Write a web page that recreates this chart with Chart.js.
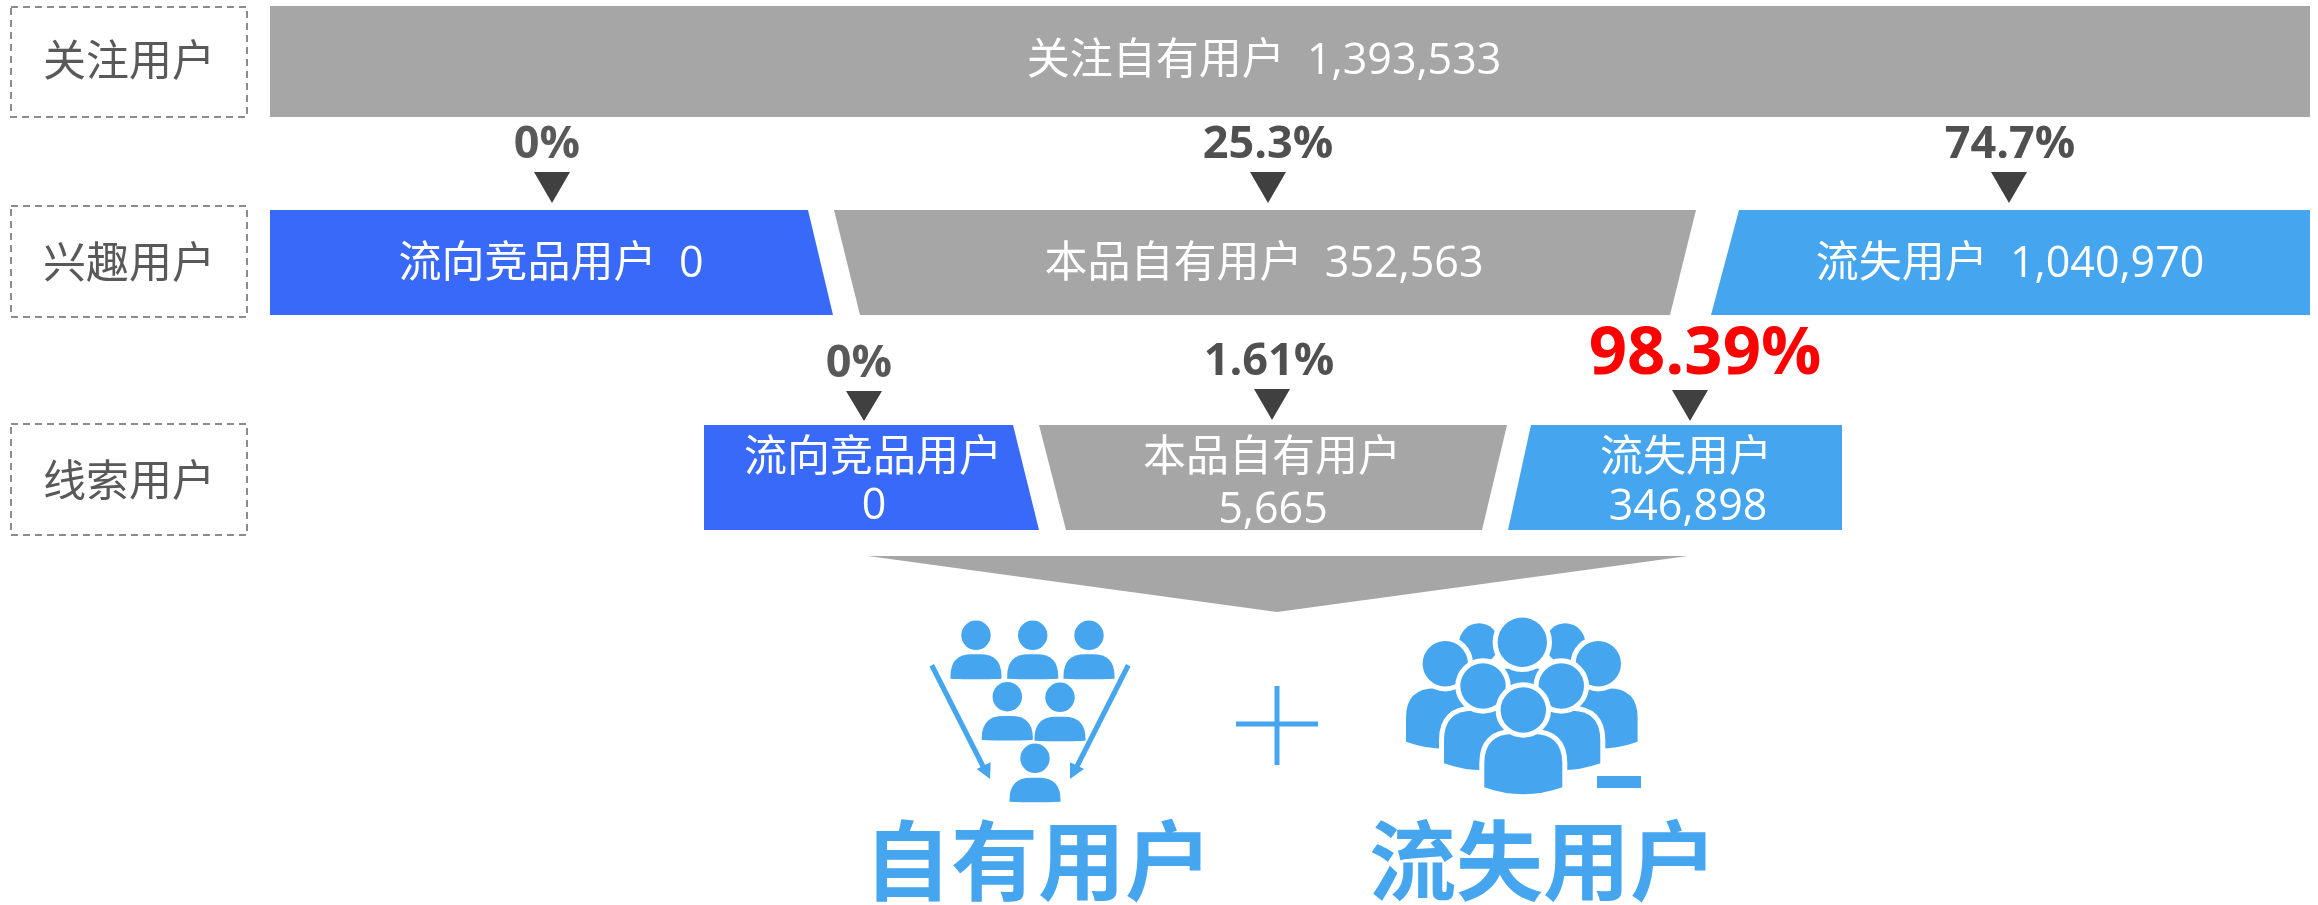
<!DOCTYPE html>
<html>
<head>
<meta charset="utf-8">
<style>
html, body { margin: 0; padding: 0; background: #fff; overflow: hidden; }
canvas { display: block; }
</style>
<script src="https://cdn.jsdelivr.net/npm/chart.js@4/dist/chart.umd.min.js"></script>
</head>
<body>
<canvas id="funnel" width="2318" height="905"></canvas>
<script>
// values
var stageLabels = ["关注用户", "兴趣用户", "线索用户"];
var followLabel = "关注自有用户";
var followValue = 1393533;
var groupLabels = ["流向竞品用户", "本品自有用户", "流失用户"];
var interestValues = [0, 352563, 1040970];
var leadValues = [0, 5665, 346898];
var interestRates = ["0%", "25.3%", "74.7%"];
var leadRates = ["0%", "1.61%", "98.39%"];
var bottomLabels = ["自有用户", "流失用户"];

var GREY = "#a6a6a6";
var BLUE = "#3869f8";
var SKY = "#45a5ee";
var DARK = "#404040";
var FONT = '"Open Sans", "Noto Sans CJK SC", sans-serif';

function shape(points, color) {
    return {
        data: points.map(function (p) { return { x: p[0], y: p[1] }; }),
        showLine: true,
        fill: "shape",
        backgroundColor: color,
        borderWidth: 0,
        borderDash: [4, 4],   // keeps chart.js off its fast path, vertical edges break on it
        pointRadius: 0
    };
}

function dashedBox(x0, y0, x1, y1) {
    return {
        data: [{ x: x0, y: y0 }, { x: x1, y: y0 }, { x: x1, y: y1 }, { x: x0, y: y1 }, { x: x0, y: y0 }],
        showLine: true,
        fill: false,
        borderColor: "#8c8c8c",
        borderWidth: 2,
        borderDash: [7, 5],
        pointRadius: 0
    };
}

function arrowDown(cx, top, bottom) {
    return shape([[cx - 18, top], [cx + 18, top], [cx, bottom]], DARK);
}

var datasets = [
    dashedBox(11, 7, 247, 117),
    dashedBox(11, 206, 247, 317),
    dashedBox(11, 424, 247, 535),

    shape([[270, 6], [2310, 6], [2310, 117], [270, 117]], GREY),

    shape([[270, 210], [808, 210], [833, 315], [270, 315]], BLUE),
    shape([[834, 210], [1696, 210], [1670, 315], [860, 315]], GREY),
    shape([[1739, 210], [2310, 210], [2310, 315], [1711, 315]], SKY),

    shape([[704, 425], [1013, 425], [1039, 530], [704, 530]], BLUE),
    shape([[1039, 425], [1507, 425], [1482, 530], [1066, 530]], GREY),
    shape([[1531, 425], [1842, 425], [1842, 530], [1508, 530]], SKY),

    shape([[868, 556], [1688, 556], [1277, 612]], GREY),

    arrowDown(552, 172, 203),
    arrowDown(1268, 172, 203),
    arrowDown(2009, 172, 203),
    arrowDown(864, 391, 421),
    arrowDown(1272, 389, 420),
    arrowDown(1690, 390, 421),

    // plus sign
    shape([[1236, 721.5], [1318, 721.5], [1318, 726.5], [1236, 726.5]], SKY),
    shape([[1274.5, 686], [1279.5, 686], [1279.5, 765], [1274.5, 765]], SKY),
    // minus sign
    shape([[1597, 776], [1641, 776], [1641, 788], [1597, 788]], SKY),
    // funnel arrows
    shape([[929.5, 666.5], [934, 664], [986.5, 767.5], [982, 770]], SKY),
    shape([[990, 779], [976.7, 769], [990.7, 762.3]], SKY),
    shape([[1130.5, 666.5], [1126, 664], [1073.5, 767.5], [1078, 770]], SKY),
    shape([[1070, 779], [1084, 769], [1070, 762.3]], SKY)
];

function fmt(n) {
    return n.toLocaleString("en-US");
}

// text layout: x, y, text, size, colour, weight
var texts = [
    [129, 64, stageLabels[0], 43, "#595959", "400"],
    [129, 266, stageLabels[1], 43, "#595959", "400"],
    [129, 484, stageLabels[2], 43, "#595959", "400"],

    [1264, 62, followLabel + "  " + fmt(followValue), 43, "#fff", "400"],
    [551, 265, groupLabels[0] + "  " + fmt(interestValues[0]), 43, "#fff", "400"],
    [1264, 265, groupLabels[1] + "  " + fmt(interestValues[1]), 43, "#fff", "400"],
    [2010, 265, groupLabels[2] + "  " + fmt(interestValues[2]), 43, "#fff", "400"],

    [873, 459, groupLabels[0], 43, "#fff", "400"],
    [874, 507, fmt(leadValues[0]), 43, "#fff", "400"],
    [1272, 459, groupLabels[1], 43, "#fff", "400"],
    [1273, 511, fmt(leadValues[1]), 43, "#fff", "400"],
    [1686, 459, groupLabels[2], 43, "#fff", "400"],
    [1688, 508, fmt(leadValues[2]), 43, "#fff", "400"],

    [547, 145, interestRates[0], 45, "#595959", "700"],
    [1268, 145, interestRates[1], 45, "#505050", "700"],
    [2010, 145, interestRates[2], 45, "#505050", "700"],
    [859, 364, leadRates[0], 45, "#595959", "700"],
    [1269, 362, leadRates[1], 45, "#505050", "700"],
    [1705, 355, leadRates[2], 67, "#ff0000", "700"],

    [1038, 869, bottomLabels[0], 87, SKY, "700"],
    [1543, 869, bottomLabels[1], 87, SKY, "700"]
];

// small people: head x, head y, head r, body half width, body top, body bottom
var funnelPeople = [
    [976, 635.3, 14.7, 25.5, 654.3, 678.7],
    [1032.7, 635.3, 14.7, 25.5, 654.3, 678.7],
    [1089, 635.3, 14.7, 25.5, 654.3, 678.7],
    [1007.3, 696.7, 14.7, 25.5, 716, 740],
    [1060, 697.3, 14.7, 25.5, 716.7, 740.7],
    [1035, 758.3, 14.7, 25.5, 777.7, 801.7]
];

// crowd, back to front
var crowdHeads = [[1479, 643.3, 20], [1565.3, 643.3, 20]];
var crowdPeople = [
    [1522.3, 642.3, 24.7, 39, 668.3, 715],
    [1445.3, 663.7, 22.7, 39.3, 688.3, 741.7],
    [1598.3, 663.7, 22.7, 39.3, 688.3, 741.7],
    [1483, 686, 22.7, 39, 710.7, 763.3],
    [1561.3, 686, 22.7, 39, 710.7, 763.3],
    [1523.3, 710, 22.7, 39, 734, 787.3]
];

function pathBody(ctx, xs, ys, p, dip, round) {
    var cx = xs(p[0]), half = p[3], top = ys(p[4]), bot = ys(p[5]);
    var r = half * round;
    ctx.beginPath();
    ctx.moveTo(cx - half, bot);
    ctx.lineTo(cx - half, top + r);
    ctx.quadraticCurveTo(cx - half, top, cx - half + r, top);
    ctx.lineTo(cx + half - r, top);
    ctx.quadraticCurveTo(cx + half, top, cx + half, top + r);
    ctx.lineTo(cx + half, bot);
    ctx.quadraticCurveTo(cx, bot + dip * 2, cx - half, bot);
    ctx.closePath();
}

var drawExtras = {
    id: "drawExtras",
    afterDatasetsDraw: function (chart) {
        var ctx = chart.ctx;
        var xs = function (v) { return chart.scales.x.getPixelForValue(v); };
        var ys = function (v) { return chart.scales.y.getPixelForValue(v); };
        ctx.save();

        ctx.fillStyle = SKY;
        funnelPeople.forEach(function (p) {
            ctx.beginPath();
            ctx.arc(xs(p[0]), ys(p[1]), p[2], 0, Math.PI * 2);
            ctx.fill();
            pathBody(ctx, xs, ys, p, 0.5, 0.85);
            ctx.fill();
        });

        crowdHeads.forEach(function (h) {
            ctx.fillStyle = SKY;
            ctx.beginPath();
            ctx.arc(xs(h[0]), ys(h[1]), h[2], 0, Math.PI * 2);
            ctx.fill();
        });
        crowdPeople.forEach(function (p) {
            ctx.fillStyle = SKY;
            ctx.strokeStyle = "#fff";
            ctx.lineWidth = 10;
            pathBody(ctx, xs, ys, p, 7, 0.75);
            ctx.stroke();
            ctx.fill();
            ctx.beginPath();
            ctx.arc(xs(p[0]), ys(p[1]), p[2], 0, Math.PI * 2);
            ctx.stroke();
            ctx.fill();
        });

        ctx.textAlign = "center";
        ctx.textBaseline = "middle";
        texts.forEach(function (t) {
            ctx.font = t[5] + " " + t[3] + "px " + FONT;
            ctx.fillStyle = t[4];
            ctx.fillText(t[2], xs(t[0]), ys(t[1]));
        });
        ctx.restore();
    }
};

new Chart(document.getElementById("funnel"), {
    type: "scatter",
    data: { datasets: datasets },
    options: {
        responsive: false,
        animation: false,
        layout: { padding: 0 },
        plugins: { legend: { display: false }, tooltip: { enabled: false } },
        scales: {
            x: { type: "linear", min: 0, max: 2318, display: false },
            y: { type: "linear", min: 0, max: 905, reverse: true, display: false }
        }
    },
    plugins: [drawExtras]
});
</script>
</body>
</html>
